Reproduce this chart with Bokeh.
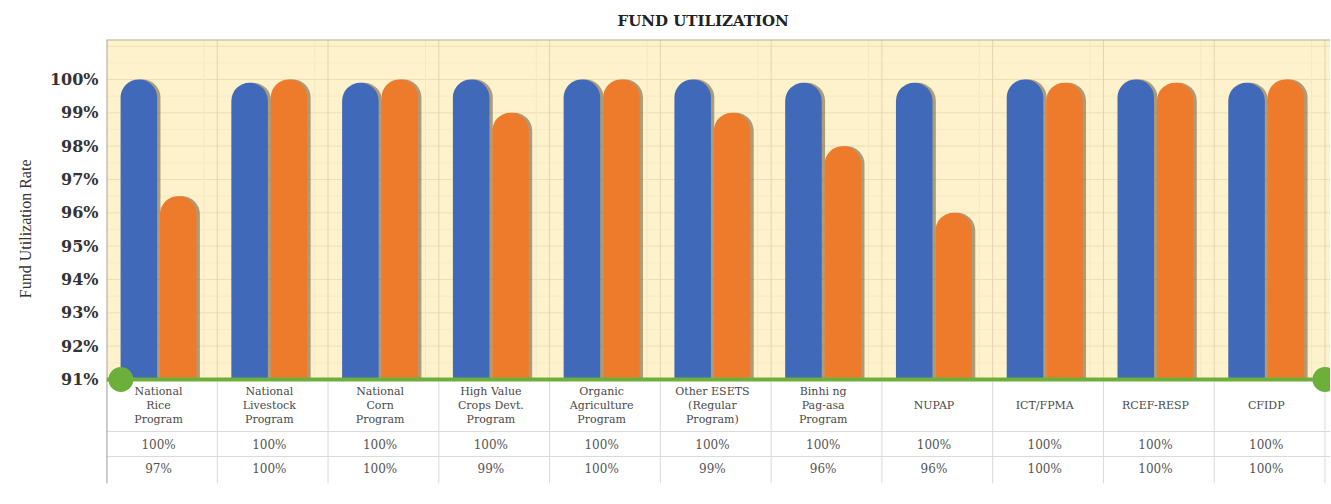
import math
from bokeh.plotting import figure
from bokeh.models import FixedTicker, PrintfTickFormatter, Title, Range1d, Span
from bokeh.core.properties import value
from bokeh.embed import file_html
from bokeh.resources import INLINE

# ---------------- data ----------------
categories = [
    "National\nRice\nProgram",
    "National\nLivestock\nProgram",
    "National\nCorn\nProgram",
    "High Value\nCrops Devt.\nProgram",
    "Organic\nAgriculture\nProgram",
    "Other ESETS\n(Regular\nProgram)",
    "Binhi ng\nPag-asa\nProgram",
    "NUPAP",
    "ICT/FPMA",
    "RCEF-RESP",
    "CFIDP",
]
blue_values = [100, 99.9, 99.9, 100, 100, 100, 99.9, 99.9, 100, 100, 99.9]
orange_values = [96.5, 100, 100, 99, 100, 99, 98, 96, 99.9, 99.9, 100]
row1_labels = ["100%", "100%", "100%", "100%", "100%", "100%", "100%", "100%", "100%", "100%", "100%"]
row2_labels = ["97%", "100%", "100%", "99%", "100%", "99%", "96%", "96%", "100%", "100%", "100%"]
y_ticks = [91, 92, 93, 94, 95, 96, 97, 98, 99, 100]
title_text = "FUND UTILIZATION"
y_label_text = "Fund Utilization Rate"

# ---------------- layout ----------------
n = len(categories)
idx = list(range(n))
xc = [i + 0.47 for i in idx]
base = y_ticks[0]
ytop = 101.2
ybot = 87.88
xmax = n + 0.05
BLUE = "#4169B9"
ORANGE = "#EE7B2C"
GREEN = "#6CB03B"
YELLOW = "#FDF2CB"

p = figure(width=1330, height=496,
           x_range=Range1d(0, xmax), y_range=Range1d(ybot, ytop),
           output_backend="svg", toolbar_location=None,
           min_border_left=106, min_border_right=0, min_border_top=39, min_border_bottom=13,
           background_fill_color="white", border_fill_color="white",
           outline_line_color=None)
p.xaxis.visible = False
p.xgrid.visible = False
p.ygrid.visible = False

ax = p.yaxis[0]
ax.ticker = FixedTicker(ticks=y_ticks)
ax.formatter = PrintfTickFormatter(format="%d%%")
ax.axis_line_color = None
ax.major_tick_line_color = None
ax.minor_tick_line_color = None
ax.major_tick_out = 0
ax.major_tick_in = 0
ax.minor_tick_out = 0
ax.minor_tick_in = 0
ax.major_label_standoff = 8
ax.major_label_text_font = "DejaVu Serif"
ax.major_label_text_font_style = "bold"
ax.major_label_text_font_size = "16px"
ax.major_label_text_color = "#333333"

# titles
p.add_layout(Title(text=title_text, align="left", offset=511, vertical_align="top",
                   text_font="DejaVu Serif", text_font_style="bold", text_font_size="15px",
                   text_color="#222222", standoff=16), "above")
p.add_layout(Title(text=y_label_text, align="right", offset=120, vertical_align="middle",
                   text_font="Liberation Serif", text_font_style="normal", text_font_size="16px",
                   text_color="#333333", standoff=24), "left")

# yellow plotting area
p.quad(left=[0], right=[xmax], bottom=[base], top=[ytop], fill_color=YELLOW, line_color=None)

# horizontal grid (major + faint minor)
hy = [t for t in y_ticks if t > base] + [101]
p.segment(x0=[0] * len(hy), x1=[xmax] * len(hy), y0=hy, y1=hy, line_color="#EBDFB6", line_width=1)
my = [t + 0.5 for t in y_ticks]
p.segment(x0=[0] * len(my), x1=[xmax] * len(my), y0=my, y1=my, line_color="#F5EBC6", line_width=1)

# vertical separators in plot area
vb = [i for i in range(1, n + 1)]
p.segment(x0=vb, x1=vb, y0=[base] * len(vb), y1=[ytop] * len(vb), line_color="#E2D5AA", line_width=1)
vm = [i + 0.88 for i in idx]
p.segment(x0=vm, x1=vm, y0=[base] * len(vm), y1=[ytop] * len(vm), line_color="#F3E8C2", line_width=1)

# table lines
row_lines = [89.44, 88.69]
p.segment(x0=[0] * 2, x1=[xmax] * 2, y0=row_lines, y1=row_lines, line_color="#DADADA", line_width=1)
tb = [i for i in range(0, n + 1)]
p.segment(x0=tb, x1=tb, y0=[base] * len(tb), y1=[ybot] * len(tb), line_color="#DADADA", line_width=1)

# frame borders (left + top)
p.segment(x0=[0], x1=[0], y0=[ybot], y1=[ytop], line_color="#A8A39A", line_width=2)
p.segment(x0=[0], x1=[xmax], y0=[ytop], y1=[ytop], line_color="#B8AE9E", line_width=2)

# bars: shadow + bar with rounded top
bw = 0.33
off = 0.178
sh = 0.03
xb = [x - off for x in xc]
xo = [x + off for x in xc]
p.vbar(x=[x + sh for x in xb], bottom=base, top=blue_values, width=bw,
       fill_color="#5E4526", fill_alpha=0.5, line_color=None, border_radius=(18, 18, 0, 0))
p.vbar(x=xb, bottom=base, top=blue_values, width=bw,
       fill_color=BLUE, line_color=None, border_radius=(18, 18, 0, 0))
p.vbar(x=[x + sh for x in xo], bottom=base, top=orange_values, width=bw,
       fill_color="#5E4526", fill_alpha=0.5, line_color=None, border_radius=(18, 18, 0, 0))
p.vbar(x=xo, bottom=base, top=orange_values, width=bw,
       fill_color=ORANGE, line_color=None, border_radius=(18, 18, 0, 0))

# green baseline with end dots
p.add_layout(Span(location=base, dimension="width", line_color=GREEN, line_width=4))
p.scatter(x=[0.13, xmax - 0.05], y=[base, base], size=25, fill_color=GREEN, line_color=None)

# table texts
p.text(x=xc, y=[90.22] * n, text=categories, text_align="center", text_baseline="middle",
       text_font=value("DejaVu Serif"), text_font_size="11px", text_color="#4A4A4A",
       text_line_height=1.08)
p.text(x=xc, y=[89.05] * n, text=row1_labels, text_align="center", text_baseline="middle",
       text_font=value("DejaVu Serif"), text_font_size="12px", text_color="#555555")
p.text(x=xc, y=[88.31] * n, text=row2_labels, text_align="center", text_baseline="middle",
       text_font=value("DejaVu Serif"), text_font_size="12px", text_color="#555555")

open("out.html", "w").write(file_html(p, INLINE))
